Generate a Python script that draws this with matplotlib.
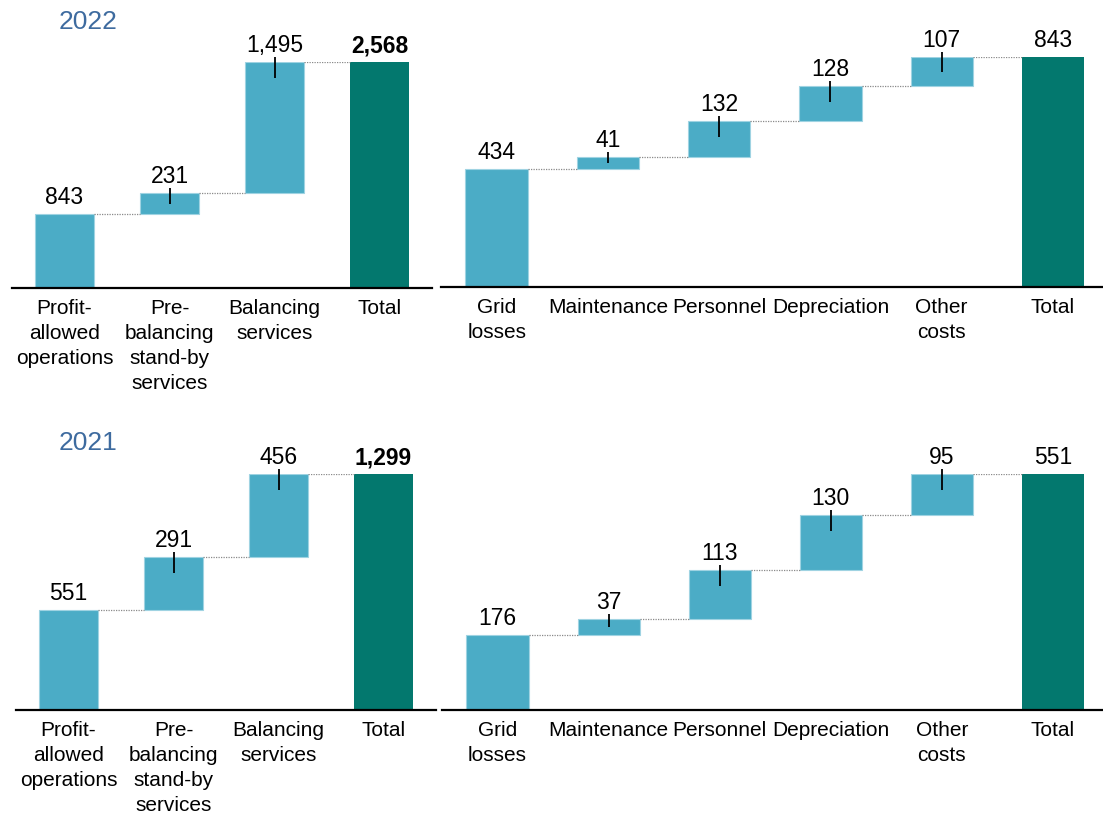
import matplotlib.pyplot as plt

plt.rcParams['font.family'] = ['Liberation Sans', 'DejaVu Sans']

# Revenue build-up (left) and cost build-up (right), DKK m
rev_labels = ['Profit-\nallowed\noperations', 'Pre-\nbalancing\nstand-by\nservices',
              'Balancing\nservices', 'Total']
cost_labels = ['Grid\nlosses', 'Maintenance', 'Personnel', 'Depreciation',
               'Other\ncosts', 'Total']

rev_2022 = [843, 231, 1495]
rev_total_2022 = 2568
cost_2022 = [434, 41, 132, 128, 107]
cost_total_2022 = 843

rev_2021 = [551, 291, 456]
rev_total_2021 = 1299
cost_2021 = [176, 37, 113, 130, 95]
cost_total_2021 = 551

BLUE = '#4BACC6'
TEAL = '#03786E'
TITLE_BLUE = '#3E6B9F'

W, H = 1103, 822
fig = plt.figure(figsize=(W / 100, H / 100), dpi=100)


def waterfall(x0, x1, y_top, y_axis, xmax, labels, steps, total, bold_total):
    # axes spans from the axis line up to the top of the total bar
    ax = fig.add_axes([x0 / W, 1 - y_axis / H, (x1 - x0) / W, (y_axis - y_top) / H])
    per_px = total / (y_axis - y_top)
    n = len(steps)
    width = 0.56

    base = 0
    tops = []
    for i, v in enumerate(steps):
        ax.bar(i, v, bottom=base, width=width, color=BLUE,
               edgecolor='#9fd3e2', linewidth=0.8)
        base += v
        tops.append(base)
    ax.bar(n, total, width=width, color=TEAL, linewidth=0)

    # dotted connectors between neighbouring bars
    for i, t in enumerate(tops):
        ax.plot([i + width / 2, i + 1 - width / 2], [t, t], color='#8a8a8a',
                linestyle=(0, (1, 1)), linewidth=0.9)

    # value labels, with leader ticks on the step bars
    for i, v in enumerate(steps):
        t = tops[i]
        if i > 0:
            below = min(16, v / per_px / 2)
            ax.plot([i, i], [t + 5 * per_px, t - below * per_px], color='black',
                    linewidth=1.3, clip_on=False, solid_capstyle='butt')
        ax.text(i, t + 10 * per_px, f'{v:,}', ha='center', va='baseline',
                fontsize=16.5)
    ax.text(n, total + 10 * per_px, f'{total:,}', ha='center', va='baseline',
            fontsize=16.5, fontweight='bold' if bold_total else 'normal')

    ax.set_xlim(-0.5, xmax)
    ax.set_ylim(0, total)
    ax.set_xticks(range(n + 1))
    ax.set_xticklabels(labels, fontsize=15, linespacing=1.4)
    ax.tick_params(axis='x', length=0, pad=8)
    ax.set_yticks([])
    for s in ['top', 'left', 'right']:
        ax.spines[s].set_visible(False)
    ax.spines['bottom'].set_linewidth(1.6)
    ax.spines['bottom'].set_color('black')
    ax.patch.set_alpha(0)
    return ax


waterfall(12, 432, 62, 288, 3.5, rev_labels, rev_2022, rev_total_2022, True)
waterfall(441, 1103, 57, 287, 5.45, cost_labels, cost_2022, cost_total_2022, False)
waterfall(16, 436, 474, 710, 3.5, rev_labels, rev_2021, rev_total_2021, True)
waterfall(442, 1103, 474, 710, 5.45, cost_labels, cost_2021, cost_total_2021, False)

fig.text(59 / W, 1 - 29 / H, '2022', fontsize=19, color=TITLE_BLUE, va='baseline')
fig.text(59 / W, 1 - 450 / H, '2021', fontsize=19, color=TITLE_BLUE, va='baseline')

fig.savefig('out.png', dpi=100)
